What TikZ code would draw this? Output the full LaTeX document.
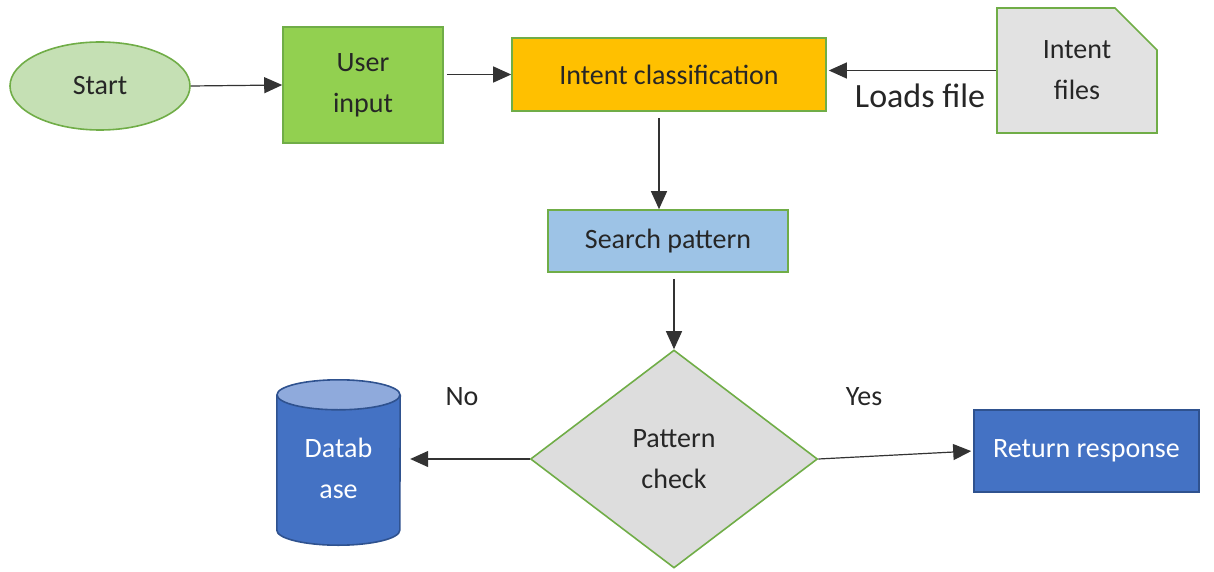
\documentclass[tikz,border=0pt]{standalone}
\usepackage{fontspec}
\setmainfont{Carlito}
\usetikzlibrary{arrows.meta,shapes.geometric,shapes.misc,calc}
\definecolor{gborder}{HTML}{70AD47}
\definecolor{startfill}{HTML}{C5E0B4}
\definecolor{userfill}{HTML}{92D050}
\definecolor{intentfill}{HTML}{FFC000}
\definecolor{filesfill}{HTML}{E2E2E2}
\definecolor{searchfill}{HTML}{9DC3E6}
\definecolor{diafill}{HTML}{DDDDDD}
\definecolor{bluefill}{HTML}{4472C4}
\definecolor{blueborder}{HTML}{2F528F}
\definecolor{bluetop}{HTML}{8FAADC}
\definecolor{txt}{HTML}{262626}
\tikzset{
  base/.style={draw=gborder, line width=1.6pt, align=center, text=txt,
    font=\fontsize{28}{41}\selectfont, inner sep=0pt},
  conn/.style={line width=1.2pt, draw=black!80, -{Triangle[length=18pt,width=16pt]}},
  lbl/.style={font=\fontsize{28}{30}\selectfont, text=txt, inner sep=0pt}
}
\begin{document}
\begin{tikzpicture}[x=1pt,y=-1pt]
\useasboundingbox (0,0) rectangle (1214,572);
% nodes
\node[base, ellipse, fill=startfill, minimum width=180pt, minimum height=88pt] (start) at (100,86) {Start};
\node[base, rectangle, fill=userfill, minimum width=160pt, minimum height=116pt] (user) at (363,85) {User\\input};
\node[base, rectangle, fill=intentfill, minimum width=314pt, minimum height=73pt] (intent) at (669,74.5) {Intent classification};
\node[base, chamfered rectangle, chamfered rectangle corners=north east,
      chamfered rectangle xsep=22pt, chamfered rectangle ysep=20pt,
      fill=filesfill, minimum width=160pt, minimum height=125pt] (files) at (1077,70.5) {Intent\\files};
\node[base, rectangle, fill=searchfill, minimum width=240pt, minimum height=62pt] (search) at (668,241) {Search pattern};
\node[base, diamond, fill=diafill, minimum width=287pt, minimum height=218pt] (pc) at (674,459) {Pattern\\check};
\node[base, rectangle, draw=blueborder, fill=bluefill, text=white, minimum width=225pt, minimum height=82pt] (ret) at (1086.5,451) {Return response};
% database cylinder
\node[inner sep=0pt, minimum width=123pt, minimum height=165pt] (db) at (338.5,462.5) {};
\fill[bluefill] ($(db.north west)+(0,15)$) -- ($(db.south west)+(0,-15)$)
   arc[start angle=180, end angle=360, x radius=61.5pt, y radius=15pt]
   -- ($(db.north east)+(0,15)$) -- cycle;
\draw[blueborder, line width=1.6pt] ($(db.north west)+(0,15)$) -- ($(db.south west)+(0,-15)$)
   arc[start angle=180, end angle=360, x radius=61.5pt, y radius=15pt]
   -- ($(db.north east)+(0,15)$);
\filldraw[fill=bluetop, draw=blueborder, line width=1.6pt] ($(db.north)+(0,15)$) ellipse[x radius=61.5pt, y radius=15pt];
\node[align=center, text=white, font=\fontsize{28}{41}\selectfont, inner sep=0pt] (dbtext) at ($(db.center)+(0,6)$) {Datab\\ase};
% labels
\node[lbl, font=\fontsize{34}{36}\selectfont] (loads) at (920,96) {Loads file};
\node[lbl] (no) at (462,397) {No};
\node[lbl] (yes) at (864,397) {Yes};
% connectors
\draw[conn] (start.east) -- (user.west);
\draw[conn, shorten <=3pt] (user.east |- intent.west) -- (intent.west);
\draw[conn, shorten >=2pt] (files.west) -- (intent.east |- files.west);
\draw[conn, shorten <=6pt] ([xshift=-10pt]intent.south) -- ([xshift=-10pt]intent.south |- search.north);
\draw[conn, shorten <=6pt] (search.south -| pc.north) -- (pc.north);
\draw[conn, shorten >=10pt] (pc.west) -- (pc.west -| db.east);
\draw[conn, shorten >=2pt] (pc.east) -- (ret.west);
\end{tikzpicture}
\end{document}
